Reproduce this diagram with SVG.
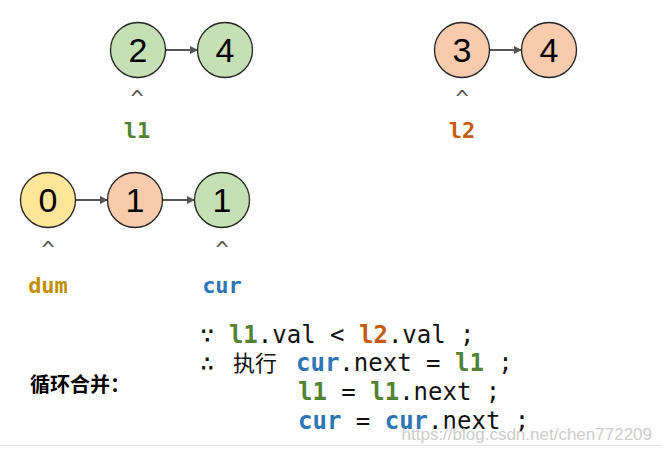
<svg xmlns="http://www.w3.org/2000/svg" width="661" height="453" viewBox="0 0 661 453">
<style>
.n circle{stroke:#222;stroke-width:1.3}
.g{fill:#c5e0b4}.o{fill:#f8cbad}.y{fill:#ffe699}
.n text{font-family:"Liberation Sans",Arial,sans-serif;font-size:34px;text-anchor:middle;fill:#000}
.c{font-family:"DejaVu Sans Mono",monospace;font-size:24px;fill:#111}
.car{font-family:"DejaVu Sans Mono",monospace;font-size:22px;fill:#555;text-anchor:middle}
.lb{font-family:"DejaVu Sans Mono",monospace;font-size:22px;font-weight:bold;text-anchor:middle}
.b{font-weight:bold}
</style>
<defs><marker id="a" markerWidth="8" markerHeight="8" refX="7" refY="4" orient="auto" markerUnits="userSpaceOnUse"><path d="M0,0 L8,4 L0,8z" fill="#555"/></marker></defs>
<rect width="661" height="453" fill="#fff"/>
<g id="connectors" stroke="#555" stroke-width="2" marker-end="url(#a)">
<line x1="166" y1="50" x2="197" y2="50"/>
<line x1="490" y1="50" x2="521" y2="50"/>
<line x1="76" y1="200" x2="107" y2="200"/>
<line x1="163" y1="200" x2="194" y2="200"/>
</g>
<g id="n2" class="n"><circle cx="138" cy="50" r="27.5" class="g"/><text x="138" y="62">2</text></g>
<g id="n4a" class="n"><circle cx="225" cy="50" r="27.5" class="g"/><text x="225" y="62">4</text></g>
<g id="n3" class="n"><circle cx="462" cy="50" r="27.5" class="o"/><text x="462" y="62">3</text></g>
<g id="n4b" class="n"><circle cx="549" cy="50" r="27.5" class="o"/><text x="549" y="62">4</text></g>
<g id="n0" class="n"><circle cx="48" cy="200" r="27.5" class="y"/><text x="48" y="212">0</text></g>
<g id="n1a" class="n"><circle cx="135" cy="200" r="27.5" class="o"/><text x="135" y="212">1</text></g>
<g id="n1b" class="n"><circle cx="222" cy="200" r="27.5" class="g"/><text x="222" y="212">1</text></g>
<g id="labels">
<text class="car" x="137" y="106">^</text>
<text class="car" x="462" y="106">^</text>
<text class="car" x="48" y="257">^</text>
<text class="car" x="222" y="257">^</text>
<text class="lb" x="137" y="138" fill="#548235">l1</text>
<text class="lb" x="462" y="138" fill="#c55a11">l2</text>
<text class="lb" x="48" y="293" fill="#bf9000">dum</text>
<text class="lb" x="222" y="293" fill="#2e75b6">cur</text>
</g>
<g id="code">
<text class="c" x="200" y="343">∵ <tspan class="b" fill="#548235">l1</tspan>.val &lt; <tspan class="b" fill="#c55a11">l2</tspan>.val ;</text>
<text class="c" x="200" y="371">∴</text>
<text x="233" y="371" style="font-family:'Noto Sans CJK SC',sans-serif;font-size:22px;fill:#111">执行</text>
<text class="c" x="296" y="371"><tspan class="b" fill="#2e75b6">cur</tspan>.next = <tspan class="b" fill="#548235">l1</tspan> ;</text>
<text class="c" x="298" y="400"><tspan class="b" fill="#548235">l1</tspan> = <tspan class="b" fill="#548235">l1</tspan>.next ;</text>
<text class="c" x="298" y="429"><tspan class="b" fill="#2e75b6">cur</tspan> = <tspan class="b" fill="#2e75b6">cur</tspan>.next ;</text>
<text x="30" y="392" style="font-family:'Noto Sans CJK SC',sans-serif;font-size:20px;font-weight:bold;fill:#000">循环合并：</text>
</g>
<line x1="0" y1="445.5" x2="661" y2="445.5" stroke="#e6e6e6"/>
<text x="652" y="440" text-anchor="end" style="font-family:'Liberation Sans',Arial,sans-serif;font-size:17px;fill:#c8c8c8;opacity:0.9">https://blog.csdn.net/chen772209</text>
</svg>
